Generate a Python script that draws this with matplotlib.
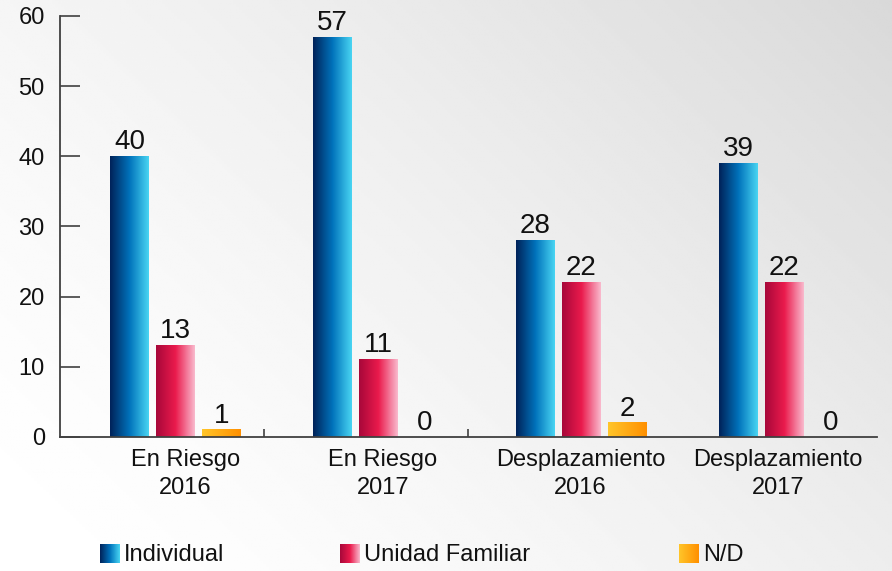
import numpy as np
import matplotlib.pyplot as plt
from matplotlib.colors import LinearSegmentedColormap
from matplotlib.ticker import FixedLocator

plt.rcParams['font.family'] = ['Liberation Sans', 'DejaVu Sans']

# data
categories = ['En Riesgo\n2016', 'En Riesgo\n2017', 'Desplazamiento\n2016', 'Desplazamiento\n2017']
series = ['Individual', 'Unidad Familiar', 'N/D']
individual = [40, 57, 28, 39]
unidad_familiar = [13, 11, 22, 22]
nd = [1, 0, 2, 0]
values = [individual, unidad_familiar, nd]

cmaps = [
    LinearSegmentedColormap.from_list('blue', ['#00235a', '#0072bb', '#48d4f2']),
    LinearSegmentedColormap.from_list('red', ['#a8083a', '#ea1a4c', '#f9b8cc']),
    LinearSegmentedColormap.from_list('orange', ['#ffc52a', '#ff9000']),
]

fig = plt.figure(figsize=(8.92, 5.71), dpi=100)

# background gradient (white bottom-left -> gray top-right)
bg = fig.add_axes([0, 0, 1, 1], zorder=-10)
yy, xx = np.mgrid[0:1:200j, 0:1:300j]
t = 0.6 * xx + 0.4 * yy
shade = 1.0 - 0.15 * t ** 1.5
bg.imshow(shade, cmap='gray', vmin=0, vmax=1, aspect='auto', origin='lower',
          extent=[0, 1, 0, 1])
bg.axis('off')

ax = fig.add_axes([0.0673, 0.2347, 0.916, 0.7373])
ax.patch.set_alpha(0)

offsets = [0.34, 0.566, 0.792]
width = 0.19
grad = np.linspace(0, 1, 64).reshape(1, -1)

for s, vals in enumerate(values):
    for i, v in enumerate(vals):
        xc = i * 0.995 + offsets[s]
        if v > 0:
            ax.imshow(grad, cmap=cmaps[s], aspect='auto',
                      extent=[xc - width / 2, xc + width / 2, 0, v], zorder=2)
        ax.text(xc, v + 0.2, str(v), ha='center', va='bottom', fontsize=20, color='#111111')

ax.set_xlim(0, 4.005)
ax.set_ylim(0, 60)

ax.set_yticks(range(0, 61, 10))
ax.tick_params(axis='y', direction='in', length=14.5, width=1.2, color='#404040',
               labelsize=17, pad=11, labelcolor='#111111')

ax.set_xticks([0.613 + i * 0.969 for i in range(len(categories))])
ax.set_xticklabels(categories, fontsize=17, color='#111111', linespacing=1.3)
ax.tick_params(axis='x', which='major', length=0, pad=9)
ax.xaxis.set_minor_locator(FixedLocator([1, 2]))
ax.tick_params(axis='x', which='minor', direction='in', length=6, width=1.2, color='#404040')

for side in ['top', 'right']:
    ax.spines[side].set_visible(False)
for side in ['left', 'bottom']:
    ax.spines[side].set_color('#404040')
    ax.spines[side].set_linewidth(1.3)

# legend
leg_x = [100, 340, 679]
for s, name in enumerate(series):
    x0 = leg_x[s] / 892
    lax = fig.add_axes([x0, 1 - 563 / 571, 20 / 892, 19 / 571])
    lax.imshow(grad, cmap=cmaps[s], aspect='auto')
    lax.axis('off')
    fig.text(x0 + 24 / 892, 1 - 555 / 571, name, fontsize=17, va='center', ha='left',
             color='#111111')

fig.savefig('out.png', dpi=100)
